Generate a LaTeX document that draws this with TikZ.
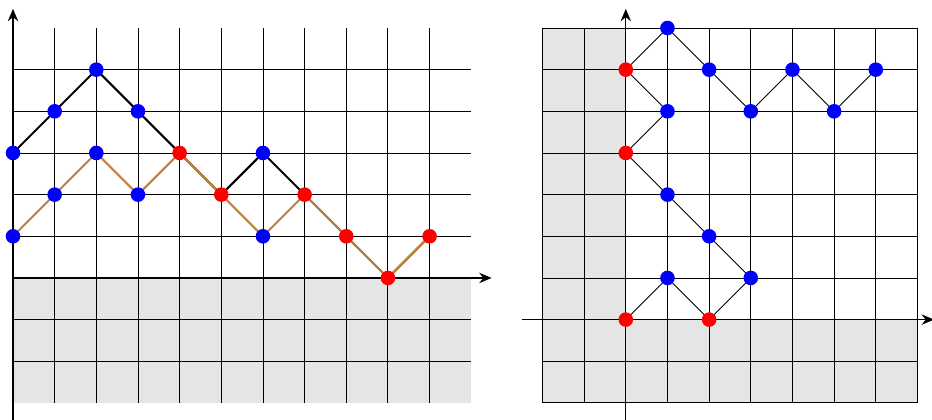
\documentclass[tikz,border=0pt]{standalone}
\usepackage{xcolor}
\definecolor{shadeGrey}{HTML}{E5E5E5}
\definecolor{pathBrown}{RGB}{191,128,64}
\usetikzlibrary{arrows.meta,backgrounds}
\tikzset{
  bluedot/.style={
    circle,
    fill=blue,
    inner sep=0pt,
    minimum size=0.35cm
  },
  reddot/.style={
    circle,
    fill=red,
    inner sep=0pt,
    minimum size=0.35cm
  },
  gridline/.style={
    draw=black,
    line width=0.6pt
  },
  axisline/.style={
    draw=black,
    line width=0.9pt,
    -{Stealth[length=3mm,width=2.5mm,inset=1mm]}
  },
  upperpath/.style={
    draw=black,
    line width=1.4pt,
    line join=round
  },
  lowerpath/.style={
    draw=pathBrown,
    line width=1.4pt,
    line join=round
  },
  treeline/.style={
    draw=black,
    line width=0.6pt
  }
}

\begin{document}
\begin{tikzpicture}[x=1cm,y=1cm]
  \useasboundingbox (-0.312,-3.408) rectangle (22.06,6.672);
  % left picture
  \foreach \x/\y/\c in {0/3/bluedot,1/4/bluedot,2/5/bluedot,3/4/bluedot,4/3/reddot,5/2/reddot,6/3/bluedot,7/2/reddot,8/1/reddot,9/0/reddot,10/1/reddot}{\node[\c] (u\x) at (\x,\y) {};}
  \foreach \x/\y in {0/1,1/2,2/3,3/2,6/1}{\node[bluedot] (l\x) at (\x,\y) {};}
  \begin{scope}[on background layer]
    \fill[shadeGrey] (0,-3) rectangle (11,0);
    \foreach \x in {0,...,10}{\draw[gridline] (\x,-3) -- (\x,6);}
    \foreach \y in {-2,...,5}{\draw[gridline] (0,\y) -- (11,\y);}
    \draw[axisline] (0,0) -- (11.49,0);
    \draw[axisline] (0,-3.45) -- (0,6.46);
    \draw[upperpath] (u0.center) -- (u1.center) -- (u2.center) -- (u3.center) -- (u4.center) -- (u5.center) -- (u6.center) -- (u7.center) -- (u8.center) -- (u9.center) -- (u10.center);
    \draw[lowerpath,xshift=-1.4pt] (l0.center) -- (l1.center) -- (l2.center) -- (l3.center) -- (u4.center) -- (u5.center) -- (l6.center) -- (u7.center) -- (u8.center) -- (u9.center) -- (u10.center);
  \end{scope}
  % right picture
  \begin{scope}[shift={(14.71,-1)}]
    \foreach \i/\x/\y/\c in {1/0/0/reddot,2/1/1/bluedot,3/2/0/reddot,4/3/1/bluedot,5/2/2/bluedot,6/1/3/bluedot,7/0/4/reddot,8/1/5/bluedot,9/0/6/reddot,10/1/7/bluedot,11/2/6/bluedot,12/3/5/bluedot,13/4/6/bluedot,14/5/5/bluedot,15/6/6/bluedot}{\node[\c] (t\i) at (\x,\y) {};}
    \begin{scope}[on background layer]
      \fill[shadeGrey] (-2,-2) rectangle (0,7);
      \fill[shadeGrey] (0,-2) rectangle (7,0);
      \draw[gridline] (-2,-2) grid (7,7);
      \draw[axisline] (-2.48,0) -- (7.4,0);
      \draw[axisline] (0,-2.45) -- (0,7.46);
      \foreach \i [count=\j from 2] in {1,...,14}{\draw[treeline] (t\i.center) -- (t\j.center);}
    \end{scope}
  \end{scope}
\end{tikzpicture}
\end{document}
